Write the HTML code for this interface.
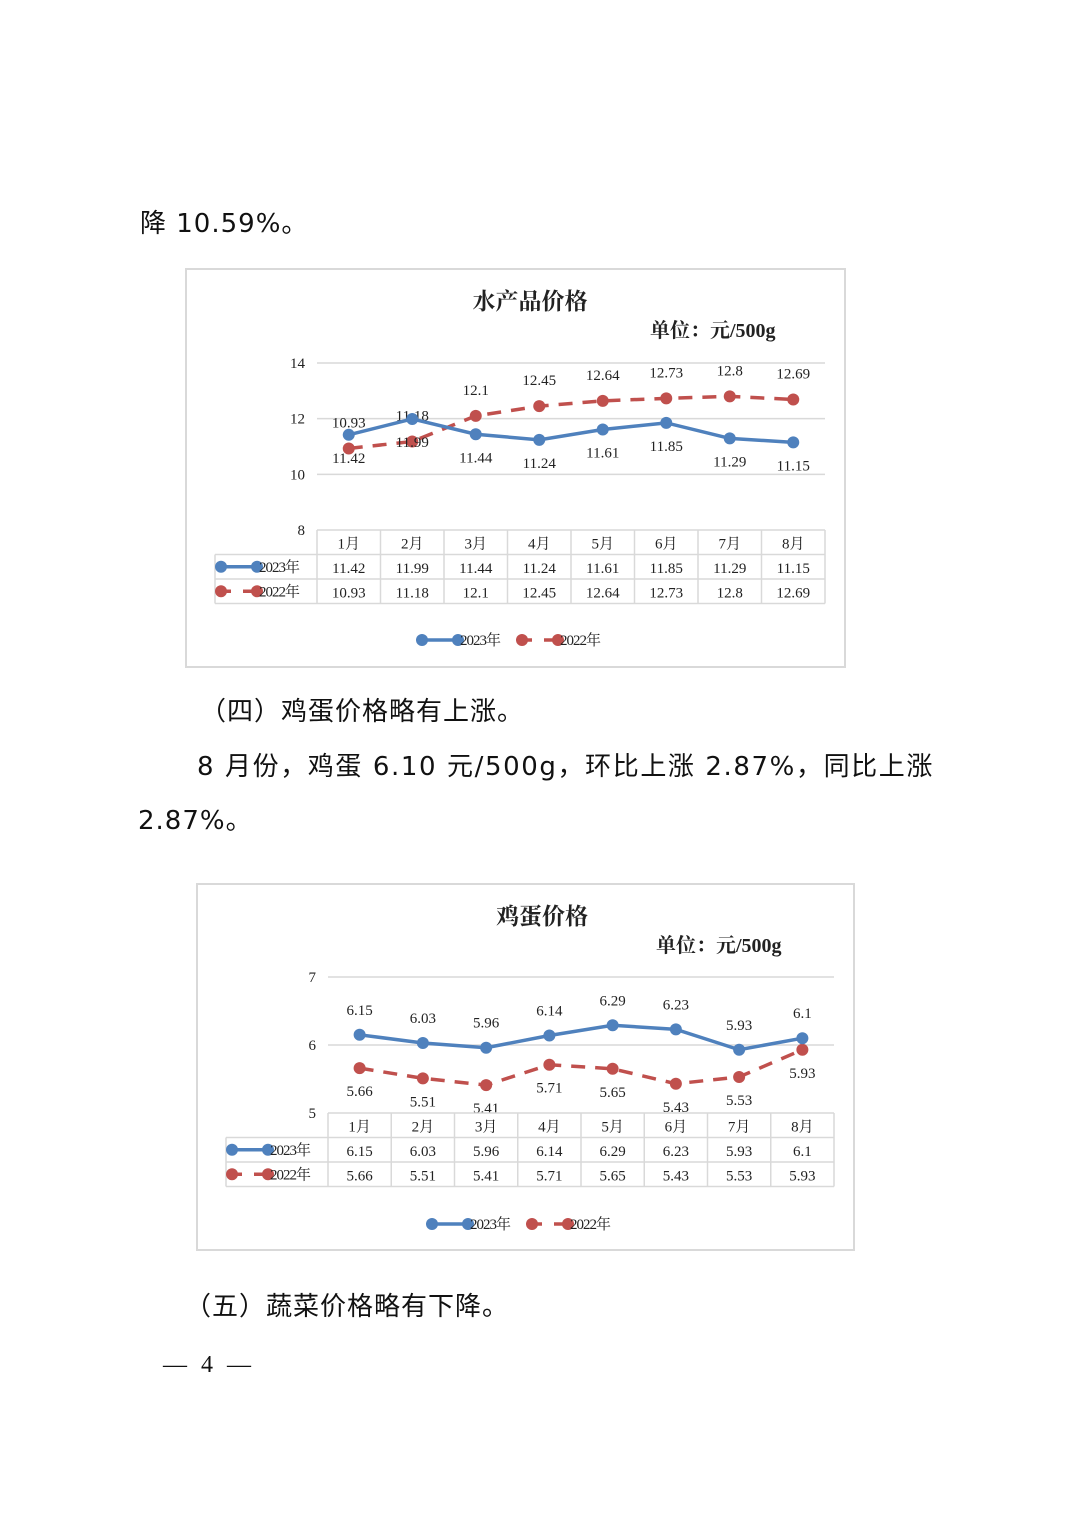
<!DOCTYPE html>
<html><head><meta charset="utf-8">
<style>
body{margin:0;background:#fff;width:1074px;height:1520px;position:relative;overflow:hidden;font-family:"DejaVu Sans","Noto Sans CJK SC",sans-serif;color:#111}
.p{position:absolute;font-size:26px;white-space:nowrap;letter-spacing:1px}
svg{position:absolute;left:0;top:0}
svg text{font-family:"Liberation Serif","Noto Serif CJK SC",serif;fill:#222}
</style></head><body>
<div class="p" style="left:140px;top:203px">降 10.59%。</div>
<div class="p" style="left:200px;top:691px">（四）鸡蛋价格略有上涨。</div>
<div class="p" style="left:197px;top:746px;letter-spacing:1.6px">8 月份，鸡蛋 6.10 元/500g，环比上涨 2.87%，同比上涨</div>
<div class="p" style="left:138px;top:800px">2.87%。</div>
<div class="p" style="left:185px;top:1286px">（五）蔬菜价格略有下降。</div>
<div class="p" style="left:163px;top:1352px;font-family:'Liberation Serif',serif;font-size:24px;letter-spacing:4px">— 4 —</div>
<svg id="s" width="1074" height="1520"></svg>
<script>
const months=["1月","2月","3月","4月","5月","6月","7月","8月"];
const fish2023=[11.42,11.99,11.44,11.24,11.61,11.85,11.29,11.15];
const fish2022=[10.93,11.18,12.1,12.45,12.64,12.73,12.8,12.69];
const fishTicks=[8,10,12,14];
const egg2023=[6.15,6.03,5.96,6.14,6.29,6.23,5.93,6.1];
const egg2022=[5.66,5.51,5.41,5.71,5.65,5.43,5.53,5.93];
const eggTicks=[5,6,7];
const S=document.getElementById('s');
function mk(t,a,txt){const e=document.createElementNS('http://www.w3.org/2000/svg',t);for(const k in a)e.setAttribute(k,a[k]);if(txt!==undefined)e.textContent=txt;S.appendChild(e);return e;}
function chart(c){
 let e=mk('rect',{x:c.bx,y:c.by,width:c.bw,height:c.bh,fill:'#fff',stroke:'#d9d9d9','stroke-width':2});
 
 e=mk('text',{x:c.titleX,y:c.by+40,'text-anchor':'middle','font-size':23,'font-weight':'bold'},c.title);
 
 e=mk('text',{x:c.unitX,y:c.by+68,'font-size':20,'font-weight':'bold'},'单位：元/500g');
 
 const ymin=c.ticks[0],ymax=c.ticks[c.ticks.length-1];
 const Y=v=>c.y1-(v-ymin)/(ymax-ymin)*(c.y1-c.y0);
 const cw=(c.x1-c.x0)/months.length;const X=i=>c.x0+cw*(i+0.5);
 c.ticks.forEach(t=>{
  if(t!==ymin){e=mk('line',{x1:c.x0,x2:c.x1,y1:Y(t),y2:Y(t),stroke:'#d9d9d9','stroke-width':1.5});}
  e=mk('text',{x:c.x0-12,y:Y(t)+5,'text-anchor':'end','font-size':15},t);
  
 });
 const series=[{d:c.s22,col:'#c0504d',dash:'14,10',off:c.off22,n:'2022'},{d:c.s23,col:'#4f81bd',dash:'',off:c.off23,n:'2023'}];
 series.forEach(s=>{
  e=mk('polyline',{points:s.d.map((v,i)=>X(i)+','+Y(v)).join(' '),fill:'none',stroke:s.col,'stroke-width':3.5,'stroke-dasharray':s.dash});
  
  s.d.forEach((v,i)=>{
   e=mk('circle',{cx:X(i),cy:Y(v),r:6,fill:s.col});
   
   e=mk('text',{x:X(i),y:Y(v)+s.off,'text-anchor':'middle','font-size':15},v);
   
  });
 });
 const t0=c.y1,rh=c.rh;
 [[c.x0,t0,c.x1,t0],[c.tl,t0+rh,c.x1,t0+rh],[c.tl,t0+2*rh,c.x1,t0+2*rh],[c.tl,t0+3*rh,c.x1,t0+3*rh]].forEach(l=>{e=mk('line',{x1:l[0],y1:l[1],x2:l[2],y2:l[3],stroke:'#d9d9d9','stroke-width':1.5});});
 for(let i=0;i<=months.length;i++){e=mk('line',{x1:c.x0+cw*i,x2:c.x0+cw*i,y1:t0,y2:t0+3*rh,stroke:'#d9d9d9','stroke-width':1.5});}
 e=mk('line',{x1:c.tl,x2:c.tl,y1:t0+rh,y2:t0+3*rh,stroke:'#d9d9d9','stroke-width':1.5});
 months.forEach((m,i)=>{
  e=mk('text',{x:X(i),y:t0+rh-6,'text-anchor':'middle','font-size':15},m);
  e=mk('text',{x:X(i),y:t0+2*rh-6,'text-anchor':'middle','font-size':15},c.s23[i]);
  e=mk('text',{x:X(i),y:t0+3*rh-6,'text-anchor':'middle','font-size':15},c.s22[i]);
 });
 function key(x,y,s,n){
  e=mk('line',{x1:x,x2:x+36,y1:y,y2:y,stroke:s.col,'stroke-width':3.5,'stroke-dasharray':s.dash?'10,12':''});
  e=mk('circle',{cx:x,cy:y,r:6,fill:s.col});
  e=mk('circle',{cx:x+36,cy:y,r:6,fill:s.col});
  e=mk('text',{x:x+38,y:y+5,'font-size':15,'letter-spacing':-1},n);
 }
 key(c.tl+6,t0+rh*1.5,series[1],'2023年');key(c.tl+6,t0+rh*2.5,series[0],'2022年');
 key(c.legX,c.legY,series[1],'2023年');key(c.legX+100,c.legY,series[0],'2022年');
}
chart({id:'fish-chart',title:'水产品价格',titleX:530,bx:186,by:269,bw:659,bh:398,unitX:650,x0:317,x1:825,y0:363,y1:530,rh:24.5,tl:215,ticks:fishTicks,s23:fish2023,s22:fish2022,off23:28,off22:-21,legX:422,legY:640});
chart({id:'egg-chart',title:'鸡蛋价格',titleX:542,bx:197,by:884,bw:657,bh:366,unitX:656,x0:328,x1:834,y0:977,y1:1113,rh:24.5,tl:226,ticks:eggTicks,s23:egg2023,s22:egg2022,off23:-20,off22:28,legX:432,legY:1224});
</script>
</body></html>
